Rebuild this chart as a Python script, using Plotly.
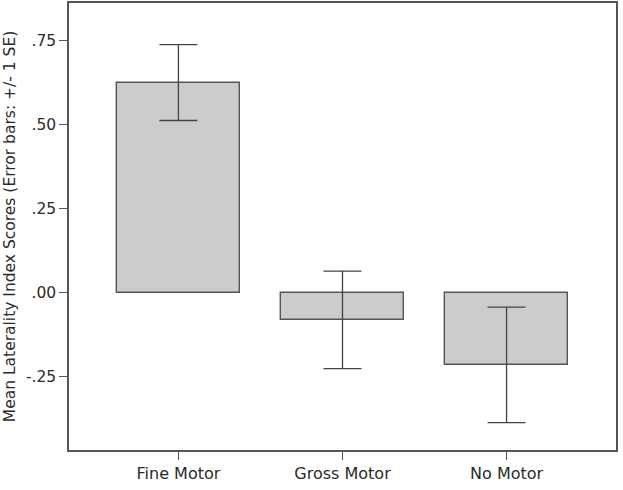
import plotly.graph_objects as go

categories = ["Fine Motor", "Gross Motor", "No Motor"]
means = [0.626, -0.080, -0.214]
se = [0.113, 0.145, 0.172]

tick_vals = [-0.25, 0.0, 0.25, 0.5, 0.75]
tick_text = ["-.25", ".00", ".25", ".50", ".75"]

font_family = "DejaVu Sans"

fig = go.Figure()
fig.add_trace(go.Bar(
    x=categories, y=means, width=0.75,
    marker=dict(color="#cccccc", line=dict(color="#555555", width=1.4)),
    error_y=dict(type="data", array=se, visible=True, color="#444444",
                 thickness=1.3, width=19),
))

fig.update_layout(
    width=623, height=490,
    margin=dict(l=69, r=7, t=1, b=40),
    paper_bgcolor="white", plot_bgcolor="white",
    showlegend=False,
    font=dict(family=font_family, size=16, color="#2a2a2a"),
    bargap=0,
)
fig.update_xaxes(
    range=[-0.667, 2.667],
    showline=True, mirror=True, linecolor="#555555", linewidth=1.5,
    ticks="outside", ticklen=8, tickcolor="#555555", tickwidth=1.2,
    showgrid=False, zeroline=False,
    tickfont=dict(size=16, color="#2a2a2a"),
)
fig.update_yaxes(
    range=[-0.4674, 0.8626],
    tickvals=tick_vals, ticktext=tick_text,
    showline=True, mirror=True, linecolor="#555555", linewidth=1.5,
    ticks="outside", ticklen=8, tickcolor="#555555", tickwidth=1.2,
    showgrid=False, zeroline=False,
    tickfont=dict(size=15.5, color="#2a2a2a"),
    title=dict(text="Mean Laterality Index Scores (Error bars: +/- 1 SE)",
               font=dict(size=15.5, color="#2a2a2a"), standoff=6),
)

fig.write_html("out.html")
